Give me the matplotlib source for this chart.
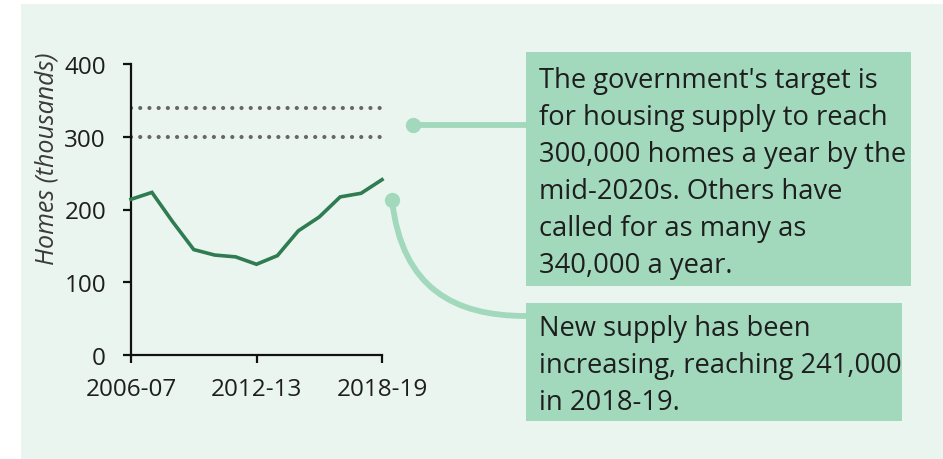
import matplotlib
matplotlib.use("Agg")
import matplotlib.pyplot as plt
from matplotlib.patches import Rectangle, PathPatch
from matplotlib.path import Path
from matplotlib.lines import Line2D

# Net additions to the housing stock, England (thousands)
years = ["2006-07", "2007-08", "2008-09", "2009-10", "2010-11", "2011-12", "2012-13",
         "2013-14", "2014-15", "2015-16", "2016-17", "2017-18", "2018-19"]
homes = [214.0, 223.5, 182.8, 144.9, 137.4, 134.9, 124.7,
         136.6, 170.7, 189.7, 217.3, 222.3, 241.0]
targets = [300, 340]
tick_years = ["2006-07", "2012-13", "2018-19"]
y_ticks = [0, 100, 200, 300, 400]

note_target = ("The government's target is\nfor housing supply to reach\n"
               "300,000 homes a year by the\nmid-2020s. Others have\n"
               "called for as many as\n340,000 a year.")
note_supply = "New supply has been\nincreasing, reaching 241,000\nin 2018-19."

W, H = 943, 460
FONT = "Open Sans"
PANEL = "#ebf5ef"
MINT = "#a2d9bd"
LINE_GREEN = "#2f7b52"
TEXT = "#1e1e1e"

plt.rcParams["font.family"] = [FONT, "DejaVu Sans"]

fig = plt.figure(figsize=(W / 100, H / 100), dpi=100)
fig.patch.set_facecolor("white")


def fx(x):
    return x / W


def fy(y):
    return 1 - y / H


# light panel behind everything
fig.patches.append(Rectangle((fx(21), 0), 1 - fx(21), fy(5), transform=fig.transFigure,
                             facecolor=PANEL, edgecolor="none", zorder=-5))

ax = fig.add_axes([fx(131), fy(356), (382 - 131) / W, (356 - 65) / H])
ax.set_facecolor("none")
ax.set_zorder(2)

x = list(range(len(years)))
ax.plot(x, homes, color=LINE_GREEN, lw=2.6, solid_joinstyle="miter", zorder=3,
        clip_on=False)
for t in targets:
    ax.plot([0, len(years) - 1], [t, t], color="#666666", lw=3.0,
            linestyle=(0, (0.01, 2.2)), dash_capstyle="round", zorder=2)

ax.set_xlim(0, len(years) - 1)
ax.set_ylim(0, 400)
ax.set_xticks([years.index(t) for t in tick_years])
ax.set_xticklabels(tick_years)
ax.set_yticks(y_ticks)
ax.set_yticklabels([str(v) for v in y_ticks])
for s in ("top", "right"):
    ax.spines[s].set_visible(False)
for s in ("left", "bottom"):
    ax.spines[s].set_linewidth(1.6)
    ax.spines[s].set_color("#111111")
ax.tick_params(axis="both", length=6, width=1.6, color="#111111",
               labelsize=17.5, labelcolor=TEXT, direction="out")
ax.tick_params(axis="x", pad=10)
ax.tick_params(axis="y", pad=12)

fig.text(fx(47), fy(159), "Homes (thousands)", rotation=90, fontsize=18,
         fontstyle="italic", color="#3a3a3a", ha="center", va="center")

# annotation boxes
fig.patches.append(Rectangle((fx(526), fy(287)), (911 - 526) / W, (287 - 53) / H,
                             transform=fig.transFigure, facecolor=MINT,
                             edgecolor="none", zorder=1))
fig.patches.append(Rectangle((fx(526), fy(422)), (902 - 526) / W, (422 - 304) / H,
                             transform=fig.transFigure, facecolor=MINT,
                             edgecolor="none", zorder=1))
fig.text(fx(539), fy(67), note_target, fontsize=19.7, color=TEXT, va="top", ha="left",
         linespacing=1.43)
fig.text(fx(539), fy(315), note_supply, fontsize=19.7, color=TEXT, va="top", ha="left",
         linespacing=1.43)

# connectors
fig.lines.append(Line2D([fx(413), fx(526)], [fy(126), fy(126)], transform=fig.transFigure,
                        color=MINT, lw=4.2, zorder=1))
fig.lines.append(Line2D([fx(413)], [fy(126)], transform=fig.transFigure, marker="o",
                        markersize=10, color=MINT, zorder=1))
curve = Path([(fx(392), fy(201)), (fx(402), fy(290)), (fx(455), fy(317)), (fx(526), fy(317))],
             [Path.MOVETO, Path.CURVE4, Path.CURVE4, Path.CURVE4])
fig.patches.append(PathPatch(curve, transform=fig.transFigure, facecolor="none",
                             edgecolor=MINT, lw=4.2, zorder=1))
fig.lines.append(Line2D([fx(392)], [fy(201)], transform=fig.transFigure, marker="o",
                        markersize=10, color=MINT, zorder=1))

fig.savefig("out.png", dpi=100, facecolor=fig.get_facecolor())
